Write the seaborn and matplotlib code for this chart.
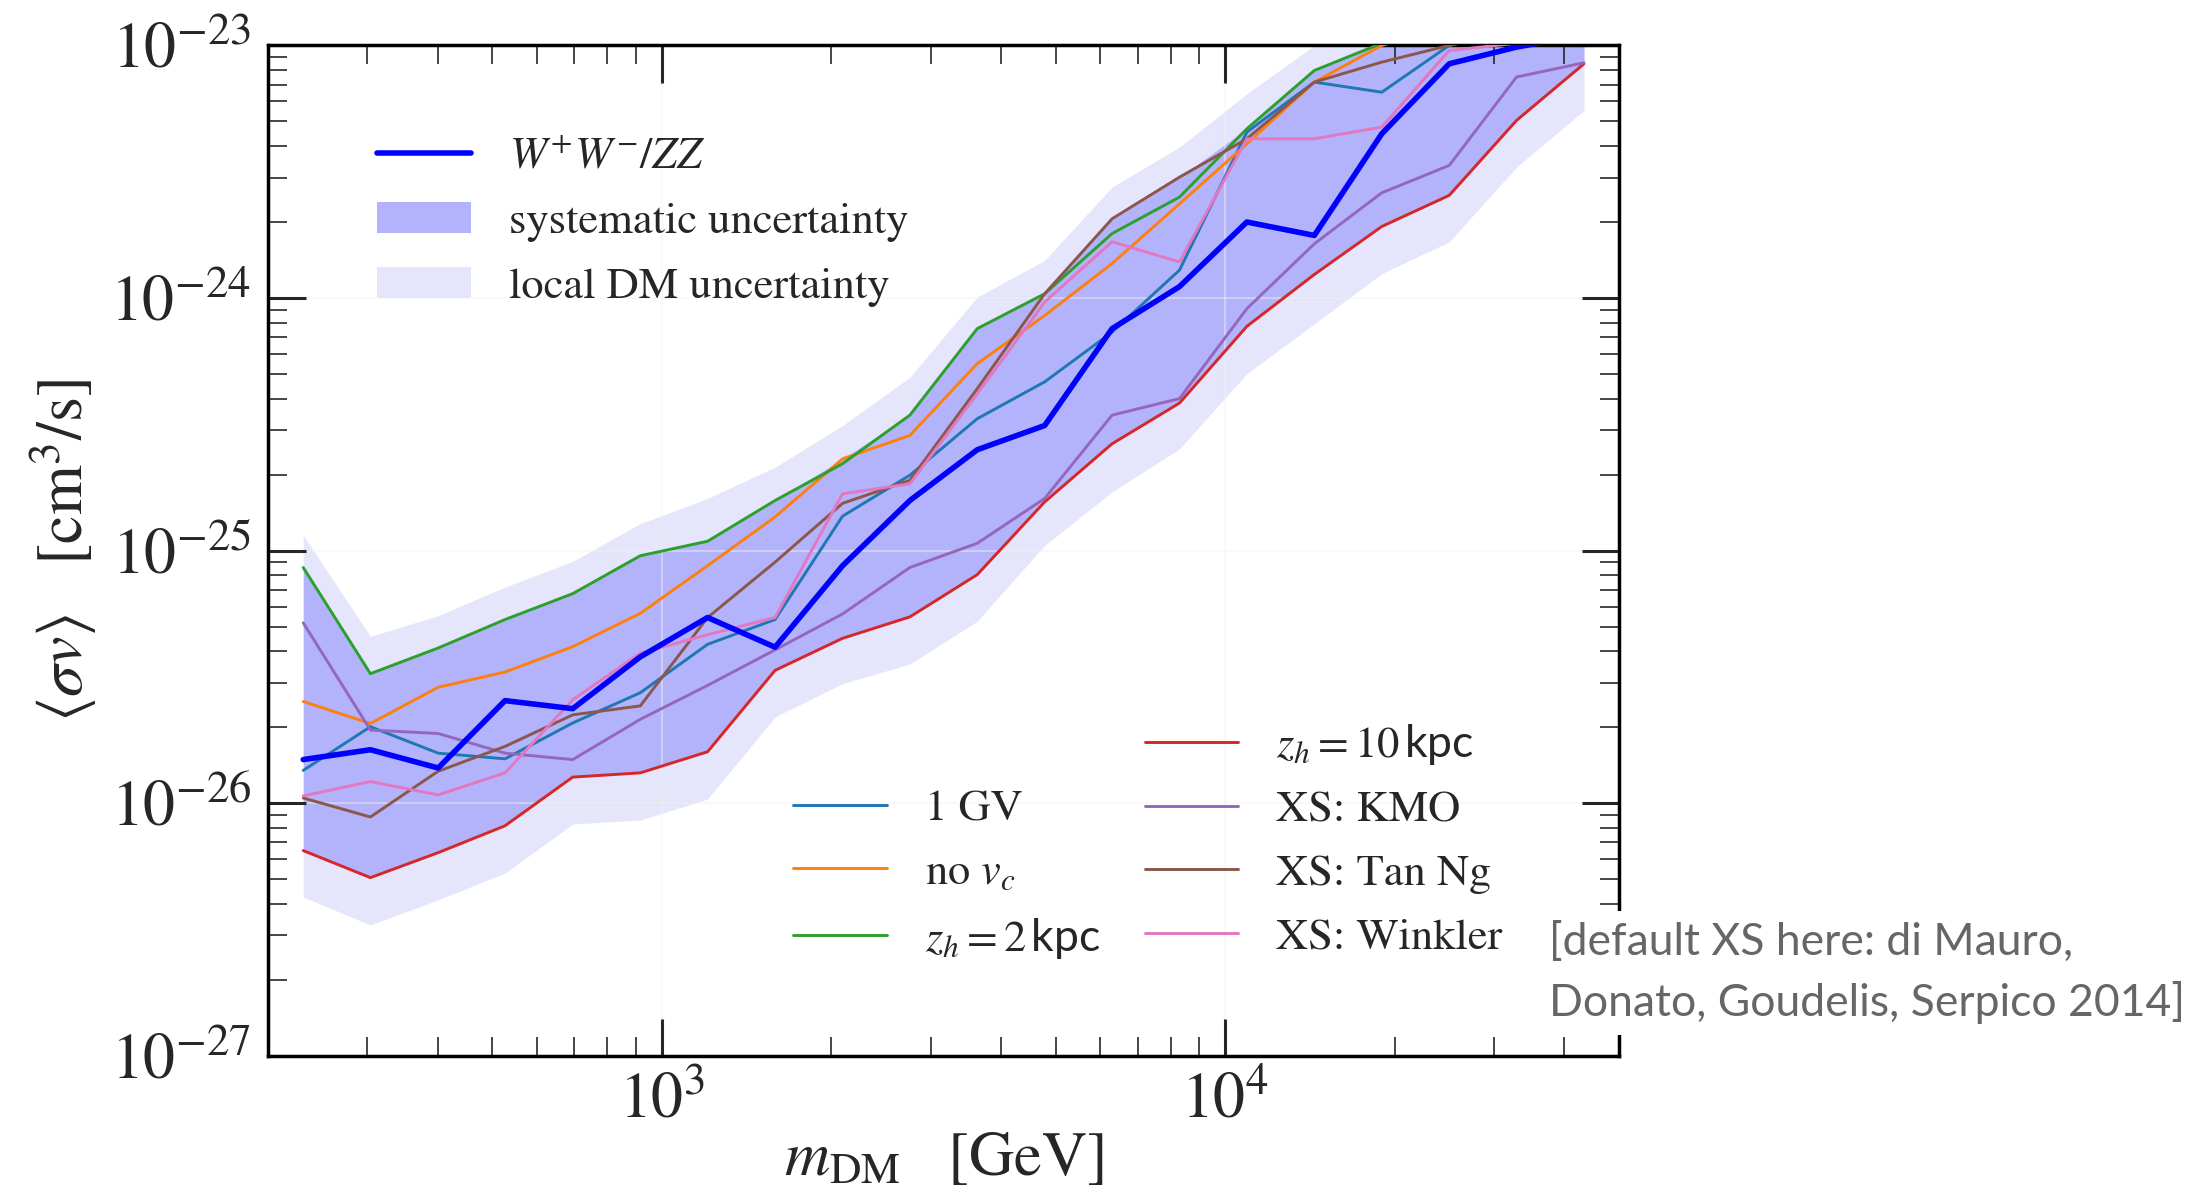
import numpy as np
import pandas as pd
import seaborn as sns
import matplotlib.pyplot as plt
from matplotlib.lines import Line2D
from matplotlib.patches import Patch
from matplotlib.ticker import NullFormatter

# dark matter mass grid [GeV]
mass = [231, 304, 401, 527, 695, 916, 1206, 1589, 2094, 2757,
        3631, 4783, 6300, 8298, 10930, 14400, 18970, 24990, 32910, 43350]

# limits on <sigma v> [cm^3/s]
ww_zz = [1.49e-26, 1.63e-26, 1.38e-26, 2.55e-26, 2.37e-26, 3.8e-26, 5.44e-26, 4.15e-26, 8.72e-26, 1.58e-25,
         2.51e-25, 3.13e-25, 7.57e-25, 1.11e-24, 2.0e-24, 1.77e-24, 4.47e-24, 8.46e-24, 9.85e-24, 1.1e-23]
one_gv = [1.35e-26, 2.01e-26, 1.58e-26, 1.50e-26, 2.08e-26, 2.74e-26, 4.26e-26, 5.34e-26, 1.37e-25, 1.99e-25,
          3.33e-25, 4.66e-25, 7.33e-25, 1.29e-24, 4.54e-24, 7.16e-24, 6.53e-24, 1.0e-23, 1.15e-23, 1.3e-23]
no_vc = [2.53e-26, 2.07e-26, 2.88e-26, 3.31e-26, 4.17e-26, 5.65e-26, 8.72e-26, 1.36e-25, 2.31e-25, 2.86e-25,
         5.5e-25, 8.53e-25, 1.37e-24, 2.36e-24, 4.08e-24, 7.16e-24, 1.0e-23, 1.2e-23, 1.4e-23, 1.6e-23]
zh2 = [8.58e-26, 3.26e-26, 4.12e-26, 5.34e-26, 6.76e-26, 9.55e-26, 1.09e-25, 1.58e-25, 2.21e-25, 3.44e-25,
       7.57e-25, 1.04e-24, 1.8e-24, 2.51e-24, 4.68e-24, 7.96e-24, 1.02e-23, 1.25e-23, 1.45e-23, 1.65e-23]
zh10 = [6.5e-27, 5.08e-27, 6.38e-27, 8.15e-27, 1.27e-26, 1.32e-26, 1.6e-26, 3.36e-26, 4.5e-26, 5.47e-26,
        8.04e-26, 1.56e-25, 2.65e-25, 3.84e-25, 7.73e-25, 1.24e-24, 1.92e-24, 2.55e-24, 5.05e-24, 8.46e-24]
xs_kmo = [5.18e-26, 1.95e-26, 1.89e-26, 1.58e-26, 1.49e-26, 2.15e-26, 2.93e-26, 4.05e-26, 5.62e-26, 8.58e-26,
          1.07e-25, 1.61e-25, 3.44e-25, 4.0e-25, 9.08e-25, 1.64e-24, 2.61e-24, 3.35e-24, 7.5e-24, 8.54e-24]
xs_tanng = [1.05e-26, 8.83e-27, 1.34e-26, 1.68e-26, 2.24e-26, 2.43e-26, 5.44e-26, 9.01e-26, 1.54e-25, 1.90e-25,
            4.38e-25, 1.04e-24, 2.06e-24, 3.01e-24, 4.27e-24, 7.16e-24, 8.59e-24, 1.0e-23, 1.15e-23, 1.3e-23]
xs_winkler = [1.07e-26, 1.22e-26, 1.08e-26, 1.32e-26, 2.57e-26, 3.93e-26, 4.65e-26, 5.44e-26, 1.68e-25, 1.84e-25,
              4.18e-25, 9.64e-25, 1.67e-24, 1.39e-24, 4.27e-24, 4.27e-24, 4.75e-24, 9.55e-24, 1.02e-23, 1.2e-23]

# local DM density band
local_lo = [4.26e-27, 3.30e-27, 4.15e-27, 5.3e-27, 8.28e-27, 8.59e-27, 1.04e-26, 2.2e-26, 2.98e-26, 3.56e-26,
            5.26e-26, 1.05e-25, 1.71e-25, 2.53e-25, 5.02e-25, 7.91e-25, 1.25e-24, 1.67e-24, 3.3e-24, 5.53e-24]
local_hi = [1.15e-25, 4.58e-26, 5.53e-26, 7.18e-26, 9.07e-26, 1.28e-25, 1.61e-25, 2.14e-25, 3.13e-25, 4.86e-25,
            1.01e-24, 1.41e-24, 2.75e-24, 3.96e-24, 6.44e-24, 1.0e-23, 1.4e-23, 1.9e-23, 2.5e-23, 3.2e-23]

variations = {
    '1 GV': one_gv,
    r'no $v_c$': no_vc,
    r'$z_h = 2\,\mathsf{kpc}$': zh2,
    r'$z_h = 10\,\mathsf{kpc}$': zh10,
    'XS: KMO': xs_kmo,
    'XS: Tan Ng': xs_tanng,
    'XS: Winkler': xs_winkler,
}
colors = ['C0', 'C1', 'C2', 'C3', 'C4', 'C5', 'C6']

sns.set_style("ticks")
plt.rcParams['font.family'] = ['STIXGeneral', 'DejaVu Serif']
plt.rcParams['mathtext.fontset'] = 'custom'
plt.rcParams['mathtext.rm'] = 'STIXGeneral'
plt.rcParams['mathtext.it'] = 'STIXGeneral:italic'
plt.rcParams['mathtext.bf'] = 'STIXGeneral:bold'
plt.rcParams['mathtext.sf'] = 'Lato'
plt.rcParams['mathtext.fallback'] = 'stix'

fig = plt.figure(figsize=(22.11, 11.99), dpi=100)
ax = fig.add_axes([0.1212, 0.1193, 0.6110, 0.8428])

# systematic band = envelope of the variations
allcurves = np.vstack([ww_zz] + list(variations.values()))
sys_lo = allcurves.min(axis=0)
sys_hi = allcurves.max(axis=0)

light = '#e5e5fb'
dark = '#b3b3fb'
ax.fill_between(mass, local_lo, local_hi, color=light, lw=0, zorder=1)
ax.fill_between(mass, sys_lo, sys_hi, color=dark, lw=0, zorder=1.1)

for (lab, vals), c in zip(variations.items(), colors):
    sns.lineplot(x=mass, y=vals, ax=ax, color=c, lw=2.1, legend=False, zorder=3)
sns.lineplot(x=mass, y=ww_zz, ax=ax, color='blue', lw=4, legend=False, zorder=4)

ax.set_xscale('log')
ax.set_yscale('log')
ax.set_xticks([1e3, 1e4])
ax.set_yticks([1e-27, 1e-26, 1e-25, 1e-24, 1e-23])
ax.set_xlim(200, 50000)
ax.set_ylim(1e-27, 1e-23)
ax.xaxis.set_minor_formatter(NullFormatter())
ax.yaxis.set_minor_formatter(NullFormatter())

ax.set_axisbelow('line')
ax.grid(True, which='major', color='#f2f2f2', lw=1.5, alpha=0.45)
ax.tick_params(which='both', direction='in', top=True, right=True, labelsize=46)
ax.tick_params(which='major', length=27, width=2.2, pad=12)
ax.tick_params(which='minor', length=14, width=1.2)
for s in ax.spines.values():
    s.set_linewidth(2.5)
    s.set_color('black')

ax.set_xlabel(r'$m_{\rm DM}\quad[\mathrm{GeV}]$', fontsize=45, labelpad=0)
ax.set_ylabel(r'$\langle \sigma v \rangle\quad[\mathrm{cm}^3/\mathrm{s}]$', fontsize=46, labelpad=8)

# legends
h1 = [Line2D([], [], color='blue', lw=4),
      Patch(facecolor=dark, edgecolor='none'),
      Patch(facecolor=light, edgecolor='none')]
l1 = [r'$W^{+}W^{-}/ZZ$', 'systematic uncertainty', 'local DM uncertainty']
leg1 = ax.legend(h1, l1, loc='center left', bbox_to_anchor=(0.081, 0.825), frameon=False,
                 fontsize=32, handlelength=2.1, handletextpad=0.85, labelspacing=0.56,
                 borderpad=0, borderaxespad=0)
ax.add_artist(leg1)

h2 = [Line2D([], [], color='none')] + [Line2D([], [], color=c, lw=2.1) for c in colors]
l2 = [''] + list(variations.keys())
ax.legend(h2, l2, ncol=2, loc='center left', bbox_to_anchor=(0.389, 0.212), frameon=False,
          fontsize=32, handlelength=2.1, handletextpad=0.85, labelspacing=0.52,
          columnspacing=1.0, borderpad=0, borderaxespad=0)

fig.text(0.7006, 0.1885, '[default XS here: di Mauro,\nDonato, Goudelis, Serpico 2014]',
         fontsize=32, family='Lato', color='#666666', ha='left', va='center', linespacing=1.5,
         bbox=dict(facecolor='white', edgecolor='none', pad=8))

fig.savefig('out.png', dpi=100)
